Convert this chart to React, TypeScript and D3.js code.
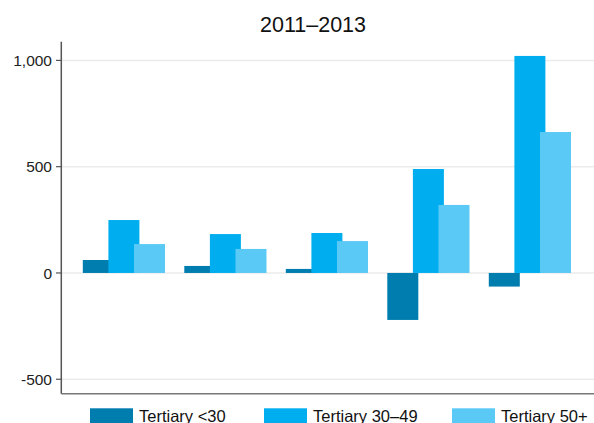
import React from "react";
import * as d3 from "d3";

const categories = ["G1", "G2", "G3", "G4", "G5"];
const seriesNames = ["Tertiary <30", "Tertiary 30–49", "Tertiary 50+"];
const under30 = [61, 33, 19, -221, -64];
const age30to49 = [249, 183, 188, 489, 1021];
const over50 = [136, 113, 150, 320, 663];
const yTicks = [-500, 0, 500, 1000];
const title = "2011–2013";

const colors = ["#007daf", "#00aeef", "#5bc9f5"];

export default function App() {
  const W = 594;
  const H = 423;
  const axisX = 61.3;
  const plotTop = 41.7;
  const plotBottom = 393.7;
  const font = "Liberation Sans, Arial, sans-serif";

  const y = d3.scaleLinear().domain([-568, 1088]).range([plotBottom, plotTop]);
  const x = d3.scaleBand<string>().domain(categories).range([73.2, 580.7]).padding(0);
  const sub = d3.scaleBand<string>().domain(seriesNames).range([9.6, 9.6 + 76.8]).padding(0);
  const barW = 31;
  const series = [under30, age30to49, over50];
  const fmt = (v: number) => d3.format(",")(v).replace("\u2212", "-");

  const legendX = [90, 264, 452];

  return (
    <svg width={W} height={H} style={{ position: "absolute", left: 0, top: 0, background: "#fff" }}>
      <text x={313} y={32} textAnchor="middle" fontFamily={font} fontSize={21.5} fill="#111">
        {title}
      </text>
      {yTicks.map((t) => (
        <g key={t}>
          <line x1={axisX} x2={W} y1={y(t)} y2={y(t)} stroke="#ebebeb" strokeWidth={1.5} />
          <line x1={56} x2={axisX} y1={y(t)} y2={y(t)} stroke="#555" strokeWidth={1.2} />
          <text x={52} y={y(t)} dy="0.36em" textAnchor="end" fontFamily={font} fontSize={15.5} fill="#222">
            {fmt(t)}
          </text>
        </g>
      ))}
      {series.map((vals, si) =>
        vals.map((v, ci) => {
          const x0 = (x(categories[ci]) ?? 0) + (sub(seriesNames[si]) ?? 0);
          return (
            <rect
              key={`${si}-${ci}`}
              x={x0}
              width={barW}
              y={Math.min(y(v), y(0))}
              height={Math.abs(y(v) - y(0))}
              fill={colors[si]}
            />
          );
        })
      )}
      <line x1={axisX} x2={axisX} y1={plotTop} y2={plotBottom} stroke="#555" strokeWidth={1.5} />
      <line x1={axisX} x2={W} y1={plotBottom} y2={plotBottom} stroke="#777" strokeWidth={1.5} />
      {seriesNames.map((s, i) => (
        <g key={s}>
          <rect x={legendX[i]} y={408.3} width={43} height={16} fill={colors[i]} />
          <text x={legendX[i] + 49} y={421.8} fontFamily={font} fontSize={16.5} fill="#111">
            {s}
          </text>
        </g>
      ))}
    </svg>
  );
}
